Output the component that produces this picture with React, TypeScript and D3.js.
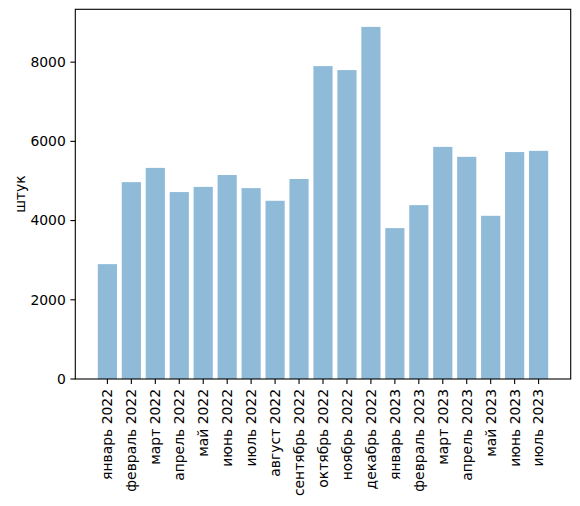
import React from 'react';
import * as d3 from 'd3';

// помесячные продажи, штук
const months = [
    'январь 2022', 'февраль 2022', 'март 2022', 'апрель 2022', 'май 2022',
    'июнь 2022', 'июль 2022', 'август 2022', 'сентябрь 2022', 'октябрь 2022',
    'ноябрь 2022', 'декабрь 2022', 'январь 2023', 'февраль 2023', 'март 2023',
    'апрель 2023', 'май 2023', 'июнь 2023', 'июль 2023'
];
const counts = [
    2900, 4970, 5330, 4720, 4850, 5150, 4820, 4500, 5050, 7900,
    7800, 8890, 3810, 4390, 5860, 5610, 4120, 5730, 5760
];
const yTicks = [0, 2000, 4000, 6000, 8000];
const yLabel = 'штук';

const App: React.FC = () => {
    const width = 580;
    const height = 506;
    const marginLeft = 75.3;
    const marginRight = 9.3;
    const marginTop = 9.3;
    const marginBottom = 127;
    const font = 'DejaVu Sans, sans-serif';
    const fontSize = 13.9;

    const n = months.length;
    const x = d3.scaleLinear()
        .domain([-0.4 - 0.94, n - 1 + 0.4 + 0.94])
        .range([marginLeft, width - marginRight]);
    const y = d3.scaleLinear()
        .domain([0, (d3.max(counts) as number) * 1.05])
        .range([height - marginBottom, marginTop]);
    const bw = x(0.8) - x(0);
    const y0 = y(0);

    return (
        <svg width={width} height={height}
            style={{ position: 'absolute', left: 0, top: 0, background: '#fff' }}
            fontFamily={font} fontSize={fontSize}>
            <g fill="#1f77b4" fillOpacity={0.5}>
                {counts.map((d, i) => (
                    <rect key={i} x={x(i) - bw / 2} y={y(d)} width={bw} height={y0 - y(d)} />
                ))}
            </g>
            <rect x={marginLeft} y={marginTop}
                width={width - marginRight - marginLeft} height={y0 - marginTop}
                fill="none" stroke="#000" strokeWidth={1.1} />
            {yTicks.map(t => (
                <g key={t} transform={`translate(${marginLeft},${y(t)})`}>
                    <line x1={-4.9} x2={0} stroke="#000" strokeWidth={1.1} />
                    <text x={-9.5} dy="0.35em" textAnchor="end" fill="#000">{t}</text>
                </g>
            ))}
            {months.map((m, i) => (
                <g key={m} transform={`translate(${x(i)},${y0})`}>
                    <line y1={0} y2={4.9} stroke="#000" strokeWidth={1.1} />
                    <text transform="translate(0,10) rotate(-90)" dy="0.35em"
                        textAnchor="end" fill="#000">{m}</text>
                </g>
            ))}
            <text transform={`translate(20,${(marginTop + y0) / 2}) rotate(-90)`}
                dy="0.35em" textAnchor="middle" fill="#000">{yLabel}</text>
        </svg>
    );
};

export default App;
